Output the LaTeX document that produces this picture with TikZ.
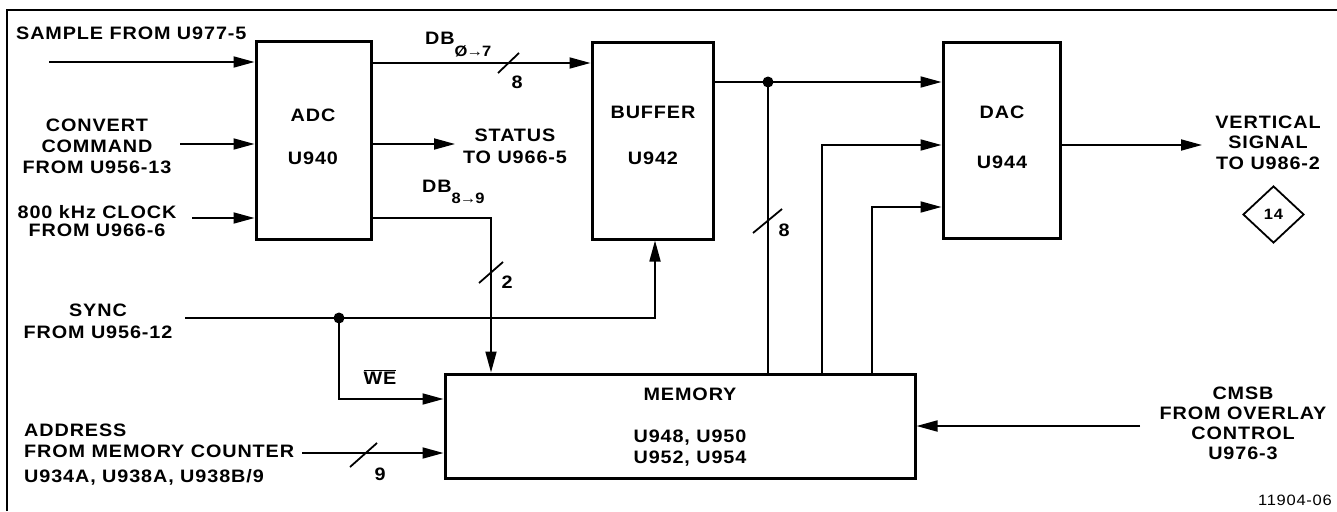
\documentclass[tikz,border=0pt]{standalone}
\usepackage{fontspec}
\setmainfont{Liberation Sans}[FakeStretch=1.1,LetterSpace=5]
\usetikzlibrary{arrows.meta,shapes.geometric}
\begin{document}
\begin{tikzpicture}[x=1pt,y=-1pt,
  lab/.style={font=\fontsize{18}{21}\selectfont\bfseries, inner sep=0pt, align=center},
  blk/.style={draw, line width=3pt, inner sep=0pt},
  wire/.style={line width=1.8pt},
  arr/.style={wire, -{Triangle[length=21pt,width=11pt]}},
  dotc/.style={circle, fill, inner sep=0pt, minimum size=11pt},
  tick/.style={line width=1.8pt}]
\useasboundingbox (0,0) rectangle (1337,511);
% frame
\draw[line width=2pt] (7,511) -- (7,10) -- (1337,10);
% blocks
\node[blk, minimum width=115pt, minimum height=197pt] (adc) at (313.5,140.5) {};
\node[blk, minimum width=121pt, minimum height=196pt] (buf) at (652.5,141) {};
\node[blk, minimum width=117pt, minimum height=195pt] (dac) at (1001.5,140.5) {};
\node[blk, minimum width=470pt, minimum height=104pt] (mem) at (680,426) {};
% block texts
\node[lab] (adct) at (313,136.5) {ADC\\[22pt]U940};
\node[lab] (buft) at (653,135) {BUFFER\\[25pt]U942};
\node[lab] (dact) at (1002,137) {DAC\\[29pt]U944};
\node[lab] (memt) at (690,394) {MEMORY};
\node[lab] (memu) at (690,448) {U948, U950\\U952, U954};
% signal labels
\node[lab, anchor=west] (samt) at (16,33) {SAMPLE FROM U977-5};
\node[lab] (convt) at (97,146) {CONVERT\\COMMAND\\FROM U956-13};
\node[lab] (clkt) at (97,221) {800 kHz CLOCK\\[-3pt]FROM U966-6};
\node[lab] (synct) at (98,321) {SYNC\\[1pt]FROM U956-12};
\node[lab, align=left, anchor=west] (addrt) at (24,455) {ADDRESS\\FROM MEMORY COUNTER\\[4pt]U934A, U938A, U938B/9};
\node[lab] (statt) at (515,146) {STATUS\\[1pt]TO U966-5};
\node[lab] (vertt) at (1268,142.5) {VERTICAL\\[-0.5pt]SIGNAL\\[-0.5pt]TO U986-2};
\node[lab] (cmsbt) at (1243,423.5) {CMSB\\[-1pt]FROM OVERLAY\\[-1pt]CONTROL\\[-1pt]U976-3};
\node[lab, anchor=base west] (db07) at (425,45) {DB\raisebox{-12pt}{\fontsize{15}{15}\selectfont Ø\kern-1pt→\kern-1pt7}};
\node[lab, anchor=base west] (db89) at (422,192) {DB\raisebox{-11pt}{\fontsize{15}{15}\selectfont 8\kern-1pt→\kern-1pt9}};
\node[lab] (we) at (380,377) {$\overline{\mbox{WE}}$};
\node[lab] (n8a) at (517,82) {8};
\node[lab] (n8b) at (784,230) {8};
\node[lab] (n2) at (507,282) {2};
\node[lab] (n9) at (380,474) {9};
\node[lab, draw, diamond, line width=1.8pt, minimum width=61pt, minimum height=57pt, font=\fontsize{15}{15}\selectfont\bfseries] (d14) at (1273.5,214.5) {14};
\node[font=\fontsize{15}{15}\selectfont, anchor=east, inner sep=0pt] (fig) at (1332,500) {11904-06};
% free ends and bends
\coordinate (sin) at (49,62);
\coordinate (cin) at (180,144);
\coordinate (kin) at (192,218);
\coordinate (syin) at (185,318);
\coordinate (adin) at (302,453);
\coordinate (stout) at (455,144);
\coordinate (vout) at (1202,145);
\coordinate (cmin) at (1140,426);
\coordinate (dbb) at (371,63);
\coordinate (db89c) at (491,218);
\coordinate (syc) at (655,318);
\coordinate (wec) at (339,399);
\coordinate (b1) at (822,145);
\coordinate (b2) at (872,207);
\node[dotc] (j1) at (339,318) {};
\node[dotc] (j2) at (768,82) {};
% connectors
\draw[arr] (sin) -- (sin -| adc.west);
\draw[arr] (cin) -- (cin -| adc.west);
\draw[arr] (kin) -- (kin -| adc.west);
\draw[arr] (adc.east |- dbb) -- (buf.west |- dbb);
\draw[arr] (adc.east |- stout) -- (stout);
\draw[arr] (adc.east |- db89c) -- (db89c) -- (db89c |- mem.north);
\draw[arr] (syin) -- (j1.center) -- (syc) -- (syc |- buf.south);
\draw[arr] (j1.center) -- (wec) -- (wec -| mem.west);
\draw[arr] (adin) -- (adin -| mem.west);
\draw[arr] (buf.east |- j2) -- (j2.center) -- (j2 -| dac.west);
\draw[wire] (j2.center) -- (j2 |- mem.north);
\draw[arr] (b1 |- mem.north) -- (b1) -- (b1 -| dac.west);
\draw[arr] (b2 |- mem.north) -- (b2) -- (b2 -| dac.west);
\draw[arr] (dac.east |- vout) -- (vout);
\draw[arr] (cmin) -- (cmin -| mem.east);
% bus width ticks
\draw[tick] (498,73) -- (519,53);
\draw[tick] (753,233) -- (782,209);
\draw[tick] (479,283) -- (503,262);
\draw[tick] (350,467) -- (377,443);
\end{tikzpicture}
\end{document}
